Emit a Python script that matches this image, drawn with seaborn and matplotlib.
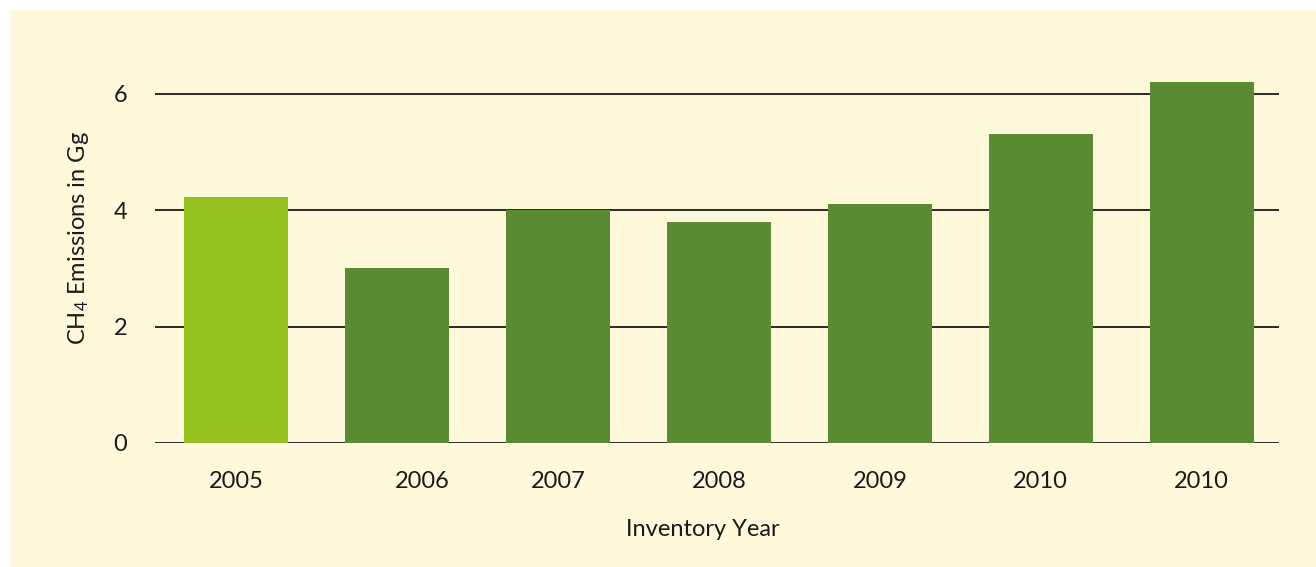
import numpy as np
import pandas as pd
import seaborn as sns
import matplotlib.pyplot as plt
import matplotlib.transforms as mtransforms
from matplotlib.patches import Rectangle

# data
years = ["2005", "2006", "2007", "2008", "2009", "2010", "2010"]
emissions = [4.22, 3.0, 4.0, 3.8, 4.1, 5.3, 6.2]
bar_kind = ["baseline", "inventory", "inventory", "inventory", "inventory", "inventory", "inventory"]
y_ticks = [0, 2, 4, 6]

bg_color = "#FFF9DC"
colors = {"baseline": "#95C11F", "inventory": "#5A8A32"}

sns.set_theme(style="white")
plt.rcParams['font.family'] = ['Lato', 'DejaVu Sans']
plt.rcParams['mathtext.fontset'] = 'custom'
plt.rcParams['mathtext.rm'] = 'Lato'
plt.rcParams['mathtext.it'] = 'Lato'

df = pd.DataFrame({"bar": range(len(years)), "emissions": emissions, "kind": bar_kind})

fig = plt.figure(figsize=(13.16, 5.67), dpi=100, facecolor="white")
# yellow panel behind the chart
panel = Rectangle((11 / 1316, 0), 1 - 11 / 1316, 1 - 10 / 567,
                  transform=fig.transFigure, facecolor=bg_color,
                  edgecolor="none", zorder=-10)
fig.add_artist(panel)
ax = fig.add_axes([0.1178, 0.2187, 0.8541, 0.6673])
ax.set_facecolor("none")

sns.barplot(data=df, x="bar", y="emissions", hue="kind", palette=colors,
            width=0.646, legend=False, saturation=1, linewidth=0, ax=ax, zorder=3)

ax.set_xlim(-0.503, 6.48)
ax.set_ylim(0, 6.5)
ax.set_yticks(y_ticks)
ax.yaxis.grid(True, color="#1a1a1a", linewidth=1.3)
ax.set_axisbelow(True)
for s in ax.spines.values():
    s.set_visible(False)

ax.set_xticks(range(len(years)))
ax.set_xticklabels(years)
ax.tick_params(axis="both", length=0, labelsize=17, labelcolor="#1a1a1a")
ax.tick_params(axis="y", pad=20)
ax.tick_params(axis="x", pad=20)

# the 2006 label sits a bit right of its bar
shift = mtransforms.ScaledTranslation(0.25, 0, fig.dpi_scale_trans)
lbl = ax.get_xticklabels()[1]
lbl.set_transform(lbl.get_transform() + shift)

ax.set_xlabel("Inventory Year", fontsize=17, color="#1a1a1a", va="top")
ax.xaxis.set_label_coords(0.4875, -0.2)
ax.set_ylabel("CH$_4$ Emissions in Gg", fontsize=17, color="#1a1a1a", va="center")
ax.yaxis.set_label_coords(-0.0685, 0.542)

fig.savefig("out.png", dpi=100, facecolor="white")
